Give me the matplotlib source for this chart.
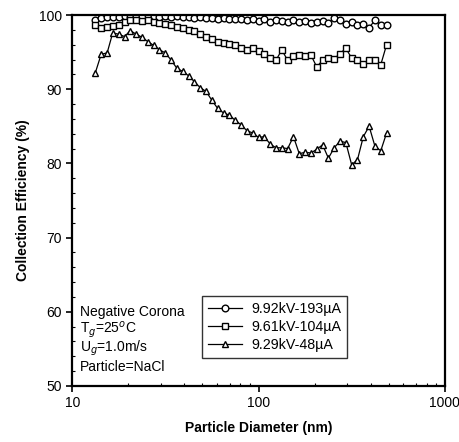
import matplotlib
matplotlib.use("Agg")
import matplotlib.pyplot as plt
from matplotlib.ticker import LogLocator, NullFormatter, MultipleLocator

plt.rcParams['font.family'] = ['Liberation Sans', 'DejaVu Sans']

# particle diameters (nm), SMPS channels
diam = [13.3, 14.3, 15.4, 16.5, 17.8, 19.1, 20.5, 22.1, 23.7, 25.5,
        27.4, 29.4, 31.6, 34.0, 36.5, 39.2, 42.2, 45.3, 48.7, 52.3,
        56.2, 60.4, 64.9, 69.8, 75.0, 80.6, 86.6, 93.1, 100.0, 107.5,
        115.5, 124.1, 133.3, 143.3, 154.0, 165.5, 177.8, 191.1, 205.4, 220.7,
        237.2, 254.8, 273.8, 294.3, 316.2, 339.8, 365.2, 392.4, 421.7, 453.1,
        487.0]

eff_193 = [99.3, 99.6, 99.7, 99.8, 99.8, 99.9, 99.8, 99.9, 99.9, 100.0,
           99.9, 99.8, 99.9, 99.8, 99.9, 99.7, 99.8, 99.6, 99.7, 99.6,
           99.6, 99.5, 99.6, 99.5, 99.4, 99.5, 99.3, 99.4, 99.2, 99.4,
           99.1, 99.3, 99.2, 99.0, 99.3, 99.1, 99.2, 98.9, 99.1, 99.2,
           98.9, 99.6, 99.3, 98.8, 99.0, 98.7, 98.8, 98.3, 99.3, 98.7,
           98.7]

eff_104 = [98.7, 98.2, 98.4, 98.5, 98.6, 99.1, 99.3, 99.3, 99.2, 99.3,
           99.0, 98.9, 98.8, 98.6, 98.4, 98.2, 98.0, 97.8, 97.5, 97.1,
           96.8, 96.4, 96.2, 96.1, 96.0, 95.5, 95.3, 95.5, 95.2, 94.8,
           94.2, 93.9, 95.3, 93.9, 94.5, 94.6, 94.5, 94.6, 93.0, 93.9,
           94.2, 94.1, 94.8, 95.5, 94.2, 93.9, 93.4, 93.9, 93.9, 93.3,
           96.0]

eff_48 = [92.2, 94.7, 94.9, 97.6, 97.4, 97.1, 97.9, 97.4, 97.0, 96.4,
          95.9, 95.3, 94.9, 93.9, 92.8, 92.4, 91.8, 91.0, 90.2, 89.7,
          88.5, 87.4, 86.8, 86.5, 85.8, 85.2, 84.4, 84.1, 83.5, 83.6,
          82.6, 82.1, 82.1, 82.0, 83.6, 81.3, 81.5, 81.4, 81.9, 82.5,
          80.7, 82.1, 83.0, 82.8, 79.8, 80.5, 83.6, 85.0, 82.3, 81.7,
          84.1]

labels = ['9.92kV-193\u00b5A', '9.61kV-104\u00b5A', '9.29kV-48\u00b5A']
notes = ['Negative Corona', 'T$_g$=25$^o$C', 'U$_g$=1.0m/s', 'Particle=NaCl']

fig = plt.figure(figsize=(4.6, 4.42), dpi=100)
ax = fig.add_axes([0.157, 0.127, 0.81, 0.839])

style = dict(color='black', lw=0.9, markersize=4.8, markeredgewidth=1.0,
             markerfacecolor='white')
ax.plot(diam, eff_193, marker='o', label=labels[0], **style)
ax.plot(diam, eff_104, marker='s', label=labels[1], **style)
ax.plot(diam, eff_48, marker='^', label=labels[2], **style)

ax.set_xscale('log')
ax.set_xlim(10, 1000)
ax.set_ylim(50, 100)
ax.set_xticks([10, 100, 1000])
ax.set_xticklabels(['10', '100', '1000'])
ax.xaxis.set_minor_locator(LogLocator(base=10, subs=range(2, 10)))
ax.xaxis.set_minor_formatter(NullFormatter())
ax.yaxis.set_major_locator(MultipleLocator(10))
ax.yaxis.set_minor_locator(MultipleLocator(2))

ax.tick_params(which='major', direction='out', length=4, width=1.2,
               labelsize=10)
ax.tick_params(which='minor', direction='in', length=2.5, width=0.8)
for s in ax.spines.values():
    s.set_linewidth(1.6)

ax.set_xlabel('Particle Diameter (nm)', fontsize=10, fontweight='bold',
              labelpad=8)
ax.set_ylabel('Collection Efficiency (%)', fontsize=10, fontweight='bold',
              labelpad=6)

for k, line in enumerate(notes):
    ax.text(0.02, 0.200 - k * 0.0495, line, transform=ax.transAxes,
            fontsize=10, va='center', ha='left')

leg = ax.legend(loc='upper left', bbox_to_anchor=(0.33, 0.262),
                fontsize=10.3, frameon=True, fancybox=False,
                edgecolor='black', handlelength=2.4, borderpad=0.4,
                labelspacing=0.3, handletextpad=0.6)
leg.get_frame().set_linewidth(1.0)

fig.savefig('out.png', dpi=100)
